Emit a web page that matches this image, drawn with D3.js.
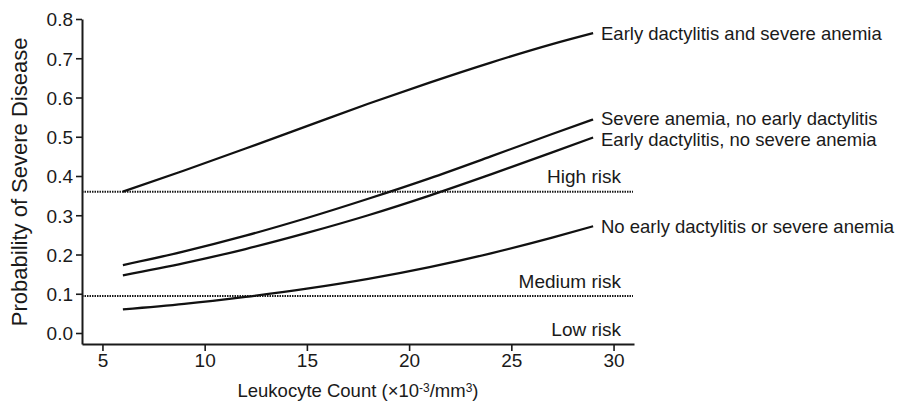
<!DOCTYPE html>
<html>
<head>
<meta charset="utf-8">
<script src="https://cdn.jsdelivr.net/npm/d3@7"></script>
<style>
  body { margin: 0; background: #fff; }
  text { font-family: "Liberation Sans", Arial, Helvetica, sans-serif; fill: #1a1a1a; }
</style>
</head>
<body>
<div id="chart"></div>
<script>
// Leukocyte count (x10^-3/mm3) at which each curve is read
var leukocytes = [6, 9, 12, 15, 18, 21, 24, 27, 29];

// Probability of severe disease
var bothRisks = [0.36, 0.414, 0.47, 0.527, 0.584, 0.638, 0.689, 0.736, 0.764];
var anemiaOnly = [0.173, 0.208, 0.248, 0.293, 0.342, 0.394, 0.45, 0.507, 0.544];
var dactylitisOnly = [0.147, 0.178, 0.214, 0.255, 0.3, 0.35, 0.404, 0.46, 0.498];
var neither = [0.06, 0.074, 0.092, 0.113, 0.138, 0.168, 0.203, 0.243, 0.272];

var seriesNames = [
  "Early dactylitis and severe anemia",
  "Severe anemia, no early dactylitis",
  "Early dactylitis, no severe anemia",
  "No early dactylitis or severe anemia"
];
var seriesValues = [bothRisks, anemiaOnly, dactylitisOnly, neither];
// small nudges so the two close labels don't collide
var labelNudge = [0, -1, 1.5, 0];

// risk thresholds
var highRisk = 0.36;
var mediumRisk = 0.094;

var xTicks = [5, 10, 15, 20, 25, 30];
var yTicks = [0, 0.1, 0.2, 0.3, 0.4, 0.5, 0.6, 0.7, 0.8];

var svgWidth = 908;
var svgHeight = 408;

var svg = d3.select("#chart")
  .append("svg")
  .attr("width", svgWidth)
  .attr("height", svgHeight);

var x = d3.scaleLinear().domain([4, 31]).range([82, 634]);
var y = d3.scaleLinear().domain([-0.028, 0.8]).range([344, 19]);

// axes
var xAxis = svg.append("g")
  .attr("transform", "translate(0," + y(-0.028) + ")")
  .call(d3.axisBottom(x).tickValues(xTicks).tickSize(7).tickSizeOuter(0).tickPadding(3).tickFormat(d3.format("d")));

var yAxis = svg.append("g")
  .attr("transform", "translate(" + x(4) + ",0)")
  .call(d3.axisLeft(y).tickValues(yTicks).tickSize(6).tickSizeOuter(0).tickPadding(3).tickFormat(d3.format(".1f")));

[xAxis, yAxis].forEach(function(g) {
  g.select(".domain").attr("stroke", "#1a1a1a").attr("stroke-width", 2);
  g.selectAll(".tick line").attr("stroke", "#1a1a1a").attr("stroke-width", 1.6);
  g.selectAll(".tick text").style("font-size", "19px").attr("fill", "#1a1a1a");
});
yAxis.selectAll(".tick text").attr("dy", "0.36em");

// threshold lines
[highRisk, mediumRisk].forEach(function(v) {
  svg.append("line")
    .attr("x1", x(4)).attr("x2", 633)
    .attr("y1", y(v)).attr("y2", y(v))
    .attr("stroke", "#1a1a1a")
    .attr("stroke-width", 2)
    .attr("stroke-dasharray", "1.5,1");
});

var riskLabels = [
  { text: "High risk", v: highRisk, dy: -9 },
  { text: "Medium risk", v: mediumRisk, dy: -8 },
  { text: "Low risk", v: 0, dy: 3 }
];
svg.selectAll(".risk")
  .data(riskLabels)
  .enter().append("text")
  .attr("class", "risk")
  .attr("x", 621)
  .attr("y", d => y(d.v) + d.dy)
  .attr("text-anchor", "end")
  .style("font-size", "19px")
  .text(d => d.text);

// curves
var line = d3.line()
  .x((d, i) => x(leukocytes[i]))
  .y(d => y(d))
  .curve(d3.curveMonotoneX);

svg.selectAll(".curve")
  .data(seriesValues)
  .enter().append("path")
  .attr("class", "curve")
  .attr("d", line)
  .attr("fill", "none")
  .attr("stroke", "#111")
  .attr("stroke-width", 2.3);

svg.selectAll(".curveLabel")
  .data(seriesNames)
  .enter().append("text")
  .attr("class", "curveLabel")
  .attr("x", 601)
  .attr("y", (d, i) => y(seriesValues[i][seriesValues[i].length - 1]) + labelNudge[i])
  .attr("dy", "0.36em")
  .style("font-size", "18.5px")
  .text(d => d);

// axis titles
var xTitle = svg.append("text")
  .attr("x", 358)
  .attr("y", 397)
  .attr("text-anchor", "middle")
  .style("font-size", "18.5px");
xTitle.append("tspan").text("Leukocyte Count (\u00d710");
xTitle.append("tspan").attr("dy", -5).style("font-size", "12px").text("-3");
xTitle.append("tspan").attr("dy", 5).text("/mm");
xTitle.append("tspan").attr("dy", -5).style("font-size", "12px").text("3");
xTitle.append("tspan").attr("dy", 5).text(")");

svg.append("text")
  .attr("transform", "translate(27," + y(0.385) + ") rotate(-90)")
  .attr("text-anchor", "middle")
  .style("font-size", "22px")
  .text("Probability of Severe Disease");
</script>
</body>
</html>
